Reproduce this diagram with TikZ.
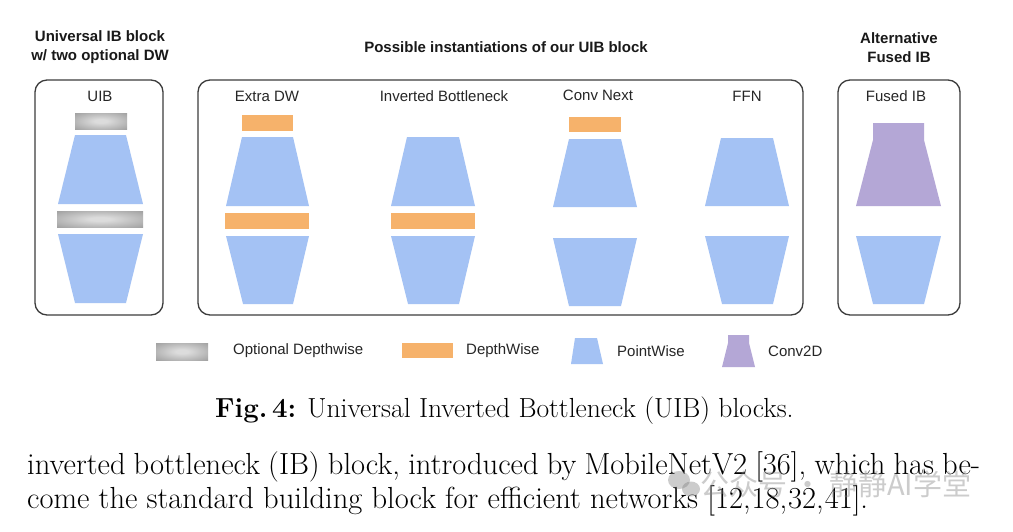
\documentclass[tikz,border=0pt]{standalone}
\usepackage{fontspec}
\newfontfamily\sansf{Liberation Sans}
\newfontfamily\cjkf{Noto Sans CJK SC}
\definecolor{pwblue}{HTML}{A4C2F4}
\definecolor{dworange}{HTML}{F6B26B}
\definecolor{convpurple}{HTML}{B4A7D6}
\definecolor{boxline}{HTML}{3C3C3C}
\definecolor{optlight}{HTML}{DCDCDC}
\definecolor{optdark}{HTML}{8C8C8C}
\pgfdeclareradialshading{optgrad}{\pgfpoint{0bp}{0bp}}{color(0bp)=(optlight); color(6bp)=(optlight); color(46bp)=(optdark); color(100bp)=(optdark)}
\tikzset{
  lbl/.style={font=\sansf\fontsize{15}{18}\selectfont, inner sep=0pt, text=black!85},
  ttl/.style={font=\sansf\bfseries\fontsize{15}{19}\selectfont, inner sep=0pt, align=center, text=black!90},
  blockbox/.style={draw=boxline, line width=1.3pt, rounded corners=12pt},
  pwshape/.style={fill=pwblue, draw=none},
  dwshape/.style={fill=dworange, draw=none},
  convshape/.style={fill=convpurple, draw=none},
  optshape/.style={shading=optgrad, draw=none},
}
\begin{document}
\begin{tikzpicture}[x=1pt,y=-1pt]
\useasboundingbox[fill=white] (0,0) rectangle (1013,531);

% titles
\node[ttl] (t1) at (100,47.5) {Universal IB block\\w/ two optional DW};
\node[ttl] (t2) at (506,47.5) {Possible instantiations of our UIB block};
\node[ttl] (t3) at (899,47.5) {Alternative\\Fused IB};

% boxes
\draw[blockbox] (35,80) rectangle (163,315);
\draw[blockbox] (198,80) rectangle (803,315);
\draw[blockbox] (838,80) rectangle (960,315);

% column labels
\node[lbl] (l1) at (100,96) {UIB};
\node[lbl] (l2) at (267,96) {Extra DW};
\node[lbl] (l3) at (444,96) {Inverted Bottleneck};
\node[lbl] (l4) at (598,95) {Conv Next};
\node[lbl] (l5) at (747,96) {FFN};
\node[lbl] (l6) at (896,96) {Fused IB};

% UIB column
\shade[optshape] (75,113) rectangle (127,129);
\fill[pwshape] (75,135) -- (126,135) -- (143,204) -- (58,204) -- cycle;
\shade[optshape] (57,211) rectangle (143,227);
\fill[pwshape] (58,234) -- (143,234) -- (126,303) -- (75,303) -- cycle;

% Extra DW column
\fill[dwshape] (242,115) rectangle (293,131);
\fill[pwshape] (242,137) -- (293,137) -- (309,206) -- (226,206) -- cycle;
\fill[dwshape] (225,213) rectangle (309,229);
\fill[pwshape] (226,236) -- (309,236) -- (293,304) -- (243,304) -- cycle;

% Inverted Bottleneck column
\fill[pwshape] (407,137) -- (459,137) -- (475,206) -- (391,206) -- cycle;
\fill[dwshape] (391,213) rectangle (475,229);
\fill[pwshape] (391,236) -- (475,236) -- (459,304) -- (408,304) -- cycle;

% Conv Next column
\fill[dwshape] (569,117) rectangle (621,132);
\fill[pwshape] (569,139) -- (621,139) -- (637,207) -- (553,207) -- cycle;
\fill[pwshape] (553,238) -- (637,238) -- (621,306) -- (569,306) -- cycle;

% FFN column
\fill[pwshape] (721,138) -- (773,138) -- (789,206) -- (705,206) -- cycle;
\fill[pwshape] (705,236) -- (789,236) -- (773,304) -- (722,304) -- cycle;

% Fused IB column
\fill[convshape] (873,123) -- (924,123) -- (924,140) -- (941,206) -- (856,206) -- (873,140) -- cycle;
\fill[pwshape] (856,236) -- (941,236) -- (924,304) -- (873,304) -- cycle;

% legend
\shade[optshape] (156,343) rectangle (208,360);
\node[lbl, anchor=west] (g1) at (233,351) {Optional Depthwise};
\fill[dwshape] (402,343) rectangle (453,358);
\node[lbl, anchor=west] (g2) at (466,351) {DepthWise};
\fill[pwshape] (575,338) -- (597,338) -- (603,364) -- (571,364) -- cycle;
\node[lbl, anchor=west] (g3) at (617,351) {PointWise};
\fill[convshape] (728,335) -- (749,335) -- (749,343) -- (755,367) -- (722,367) -- (728,343) -- cycle;
\node[lbl, anchor=west] (g4) at (768,351) {Conv2D};

% caption
\node[anchor=base west, inner sep=0pt, font=\fontsize{27.6}{33}\selectfont] (cap) at (215,417)
  {\textbf{Fig.\,4:} Universal Inverted Bottleneck (UIB) blocks.};

% body text
\node[anchor=base west, inner sep=0pt, font=\fontsize{30.5}{34}\selectfont] (body1) at (27,474)
  {\hbox to 953pt{inverted bottleneck (IB) block, introduced by MobileNetV2 [36], which has be-}};
\node[anchor=base west, inner sep=0pt, font=\fontsize{30.5}{34}\selectfont] (body2) at (27,508)
  {come the standard building block for efficient networks [12,\kern1pt18,\kern1pt32,\kern1pt41].};

% watermark
\fill[gray, opacity=0.4] (679,480) ellipse (11pt and 9pt);
\fill[gray, opacity=0.4] (691,489) ellipse (9pt and 7.5pt);
\node[anchor=west, inner sep=0pt, text=gray, opacity=0.4, font=\cjkf\fontsize{29}{32}\selectfont] (wm) at (700,484) {公众号 · 静静AI学堂};
\end{tikzpicture}
\end{document}
